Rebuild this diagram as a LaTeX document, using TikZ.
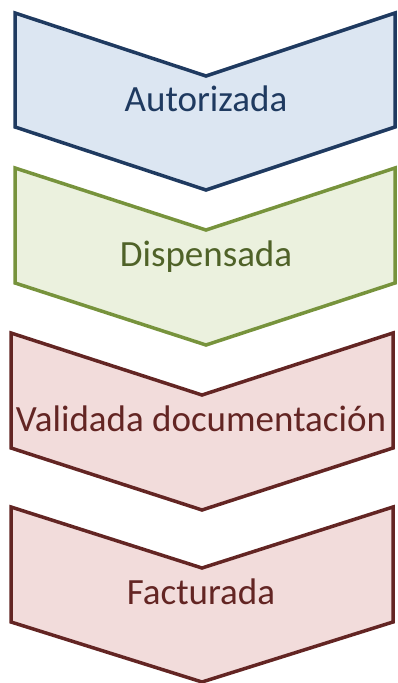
\documentclass[tikz,border=0pt]{standalone}
\usepackage{fontspec}
\setmainfont{Carlito}
\usepackage{tikz}

\definecolor{azulfill}{HTML}{DCE6F2}
\definecolor{azulline}{HTML}{1F3A60}
\definecolor{verdefill}{HTML}{EBF1DE}
\definecolor{verdeline}{HTML}{77933C}
\definecolor{verdetext}{HTML}{4F6228}
\definecolor{rojofill}{HTML}{F2DCDB}
\definecolor{rojoline}{HTML}{632523}

\tikzset{
	chevron/.style={line width=3.5pt, line join=miter},
	etiqueta/.style={anchor=base, inner sep=0pt, font=\fontsize{37}{40}\selectfont}
}

\begin{document}
\begin{tikzpicture}[x=1pt,y=1pt]

	\useasboundingbox (0,0) rectangle (398,683);

	\draw[chevron, draw=azulline, fill=azulfill] (15,670) -- (206,607) -- (395,670) -- (395,556) -- (206,493) -- (15,556) -- cycle;
	\draw[chevron, draw=verdeline, fill=verdefill] (15,515) -- (206,453) -- (395,515) -- (395,400) -- (206,338) -- (15,400) -- cycle;
	\draw[chevron, draw=rojoline, fill=rojofill] (11,350) -- (202,288) -- (393,350) -- (393,235) -- (202,173) -- (11,235) -- cycle;
	\draw[chevron, draw=rojoline, fill=rojofill] (11,176) -- (202,115) -- (393,176) -- (393,61) -- (202,1) -- (11,61) -- cycle;

	\node[etiqueta, text=azulline] (autorizada) at (206,571) {Autorizada};
	\node[etiqueta, text=verdetext] (dispensada) at (206,416) {Dispensada};
	\node[etiqueta, text=rojoline] (validada) at (201,251) {Validada documentación};
	\node[etiqueta, text=rojoline] (facturada) at (201,78) {Facturada};

\end{tikzpicture}
\end{document}
